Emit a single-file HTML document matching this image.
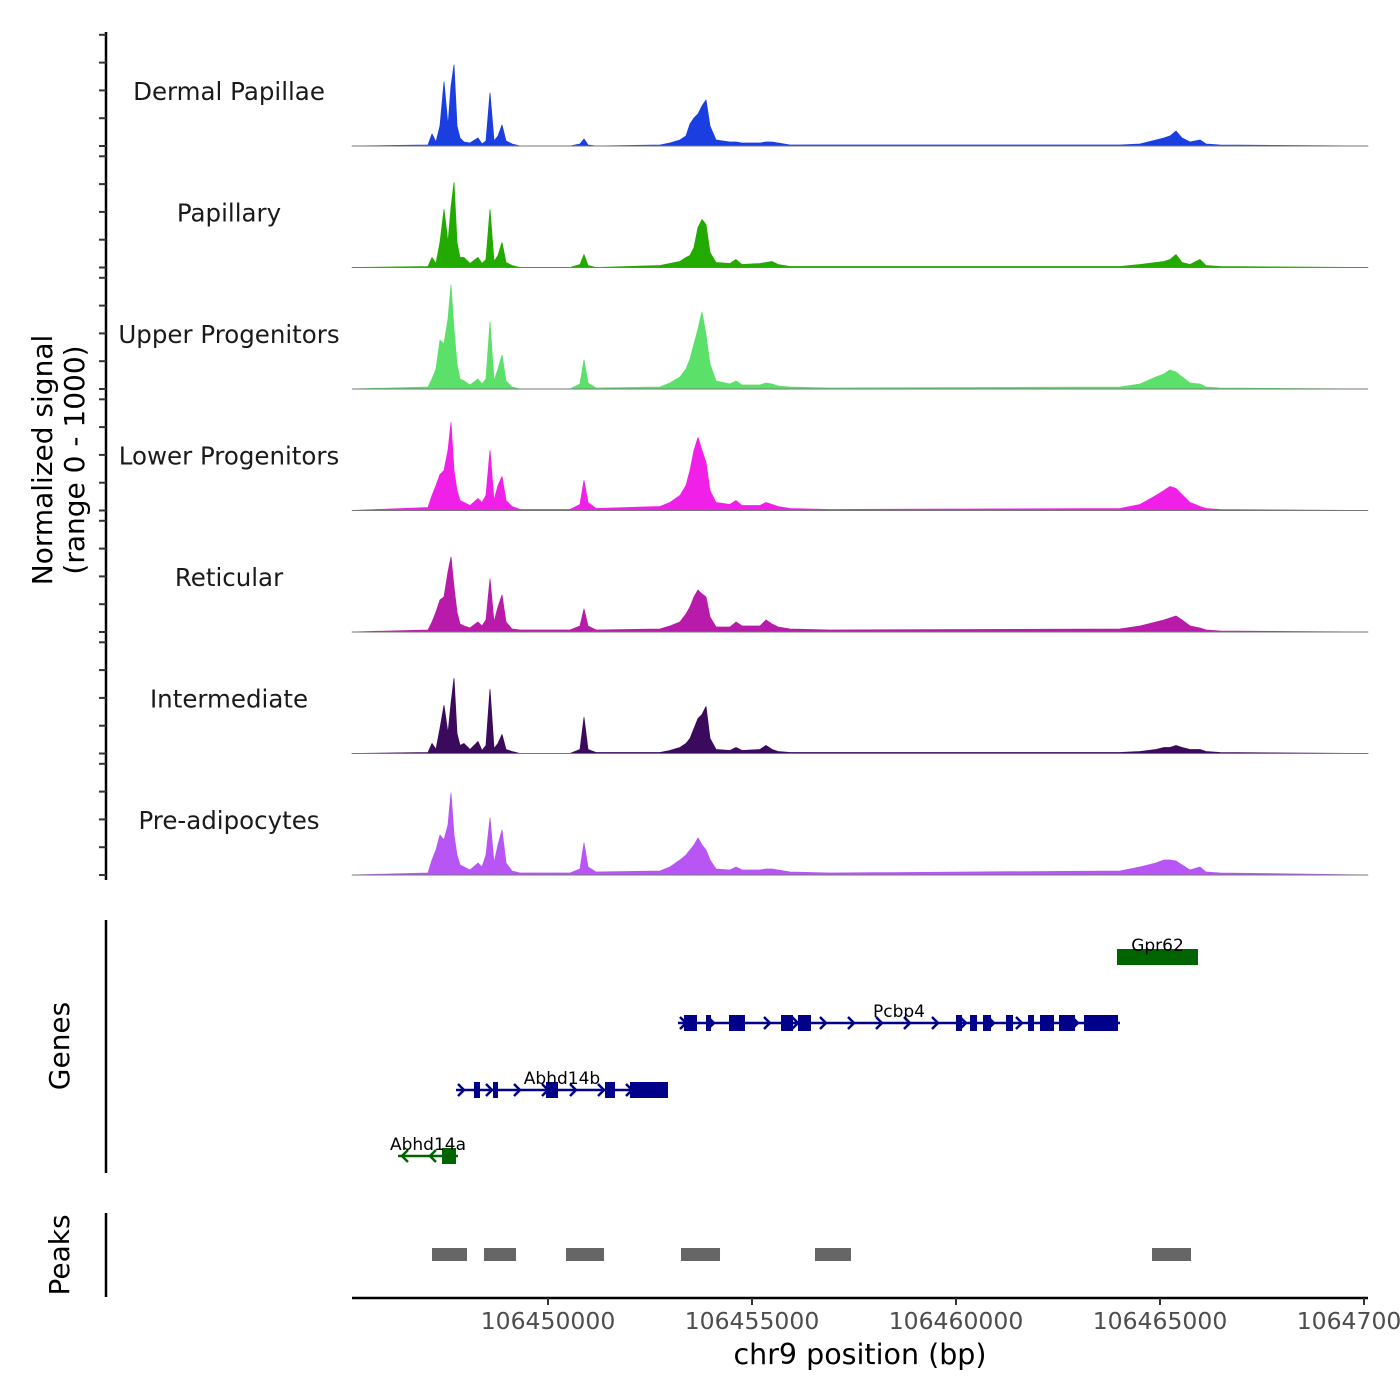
<!DOCTYPE html>
<html><head><meta charset="utf-8"><style>
html,body{margin:0;padding:0;background:#fff}
svg{display:block;font-family:"DejaVu Sans","Liberation Sans",sans-serif}
</style></head><body>
<svg id="c" width="1400" height="1400" viewBox="0 0 1400 1400" xmlns="http://www.w3.org/2000/svg"></svg>
<script>
const trackNames=["Dermal Papillae","Papillary","Upper Progenitors","Lower Progenitors","Reticular","Intermediate","Pre-adipocytes"];
const trackColors=["#1a3ee0","#22aa00","#5be06a","#f020e8","#b81aaa","#3b0a5c","#b855f5"];
const positions=[106445196,106447059,106447157,106447255,106447353,106447451,106447549,106447622,106447696,106447770,106447843,106447941,106448088,106448284,106448382,106448480,106448578,106448676,106448774,106448873,106448971,106449118,106449314,106450539,106450784,106450882,106450980,106451176,106452745,106452990,106453235,106453382,106453480,106453578,106453676,106453775,106453873,106453971,106454118,106454461,106454608,106454755,106455196,106455343,106455490,106455637,106455931,106456912,106464020,106464510,106464902,106465098,106465245,106465392,106465539,106465735,106465980,106466127,106466471,106470098];
const sigDermal=[0,1,12,4,20,64,20,60,81,20,8,4,3,8,2,5,53,5,10,21,5,2,0,0,2,7,1,0,1,3,6,10,22,28,32,40,46,20,6,4,4,3,3,4,4,3,1,1,1,2,6,8,10,15,8,4,6,2,1,0];
const sigPapillary=[0,1,10,4,25,58,25,60,85,25,10,10,4,10,4,8,58,6,12,25,5,2,0,0,3,13,2,0,2,4,6,10,12,20,40,48,43,15,5,4,8,3,4,5,6,3,1,1,1,3,5,6,8,13,5,3,8,2,1,0];
const sigUpper=[0,2,10,20,49,45,70,104,60,25,10,8,4,10,5,10,67,8,20,34,8,2,0,0,5,29,6,1,2,6,12,20,30,45,60,77,54,25,8,5,8,4,4,6,5,3,2,1,2,5,12,15,19,17,12,6,5,2,1,0];
const sigLower=[0,3,15,25,36,40,60,88,40,20,10,8,5,12,8,15,60,10,25,34,10,4,1,1,6,30,8,2,4,8,15,25,40,60,73,60,48,20,8,6,10,5,5,8,6,4,2,1,2,6,15,20,24,22,16,8,4,2,1,0];
const sigReticular=[0,2,10,20,32,35,60,75,45,20,8,6,4,10,6,12,53,10,25,37,10,3,2,2,6,23,6,2,3,6,10,18,25,35,42,38,35,15,5,5,10,6,6,12,8,5,3,2,3,6,10,12,14,16,12,6,4,2,1,0];
const sigIntermediate=[0,1,10,4,25,48,20,50,75,20,8,10,4,12,3,8,64,5,10,19,4,2,0,0,4,36,4,1,1,3,6,10,15,25,35,39,47,15,4,3,6,3,4,8,4,2,1,1,1,2,4,6,6,8,6,4,4,2,1,0];
const sigPreadipo=[0,2,15,25,40,35,50,82,40,20,10,8,5,12,8,20,57,12,30,45,12,4,2,2,6,32,8,3,4,8,15,20,25,30,37,30,25,15,6,5,8,5,5,6,6,5,3,2,4,8,12,15,15,14,10,5,8,3,2,0];
const signals=[sigDermal,sigPapillary,sigUpper,sigLower,sigReticular,sigIntermediate,sigPreadipo];
const xTicks=[106450000,106455000,106460000,106465000,106470000];
const geneNames=["Gpr62","Pcbp4","Abhd14b","Abhd14a"];
const geneStarts=[106463946,106453186,106447745,106446323];
const geneEnds=[106465931,106464020,106452941,106447794];
const geneStrand=[1,1,1,-1];
const pcbp4Exons=[[106453333,106453652],[106453873,106453995],[106454436,106454828],[106455711,106456005],[106456127,106456446],[106460000,106460147],[106460343,106460515],[106460662,106460858],[106461226,106461397],[106461765,106461912],[106462059,106462402],[106462525,106462917],[106463137,106463971]];
const abhd14bExons=[[106448186,106448333],[106448652,106448774],[106449951,106450245],[106451397,106451642],[106452010,106452941]];
const abhd14aExons=[[106447402,106447745]];
const gpr62Exons=[[106463946,106465931]];
const peakStarts=[106447157,106448431,106450441,106453260,106456544,106464804];
const peakEnds=[106448015,106449216,106451373,106454216,106457426,106465760];

const NS="http://www.w3.org/2000/svg";
const svg=document.getElementById('c');
function mk(tag,attrs,parent){const e=document.createElementNS(NS,tag);for(const k in attrs)e.setAttribute(k,attrs[k]);(parent||svg).appendChild(e);return e;}
const X0=106450000,PX0=548,PXPER=204/5000;
function xs(bp){return PX0+(bp-X0)*PXPER;}
function ys(v,base){return base-v;}

let ax=mk('line',{x1:106,y1:32,x2:106,y2:880,stroke:'#000','stroke-width':2.5});


let yt=mk('text',{x:0,y:0,'font-size':28,'text-anchor':'middle',fill:'#000',transform:'translate(52,460) rotate(-90)'});


mk('tspan',{x:0,dy:0},yt).textContent='Normalized signal';
mk('tspan',{x:0,dy:32},yt).textContent='(range 0 - 1000)';

for(let i=0;i<7;i++){
  const base=146+121.5*i;
  for(let k=0;k<5;k++){
    const t=mk('line',{x1:99,x2:106,y1:base-k*27.8,y2:base-k*27.8,stroke:'#333','stroke-width':2});
    
    
  }
  const g=mk('g',{});
  
  
  let d='M'+xs(positions[0])+','+base;
  signals[i].forEach((v,j)=>{d+=' L'+xs(positions[j]).toFixed(1)+','+ys(v,base).toFixed(1);});
  d+=' L'+xs(positions[positions.length-1])+','+base+' Z';
  const p=mk('path',{d:d,fill:trackColors[i],stroke:trackColors[i],'stroke-width':0.8,'stroke-linejoin':'round'},g);
  
  
  const bl=mk('line',{x1:352,x2:1368,y1:base,y2:base,stroke:'#777','stroke-width':1},g);
  
  
  const lb=mk('text',{x:229,y:base-46,'font-size':24.5,'text-anchor':'middle',fill:'#1a1a1a'},g);
  
  
  lb.textContent=trackNames[i];
}

let ga=mk('line',{x1:106,y1:920,x2:106,y2:1173,stroke:'#000','stroke-width':2.5});


let gt=mk('text',{x:0,y:0,'font-size':28,'text-anchor':'middle',fill:'#000',transform:'translate(69,1046) rotate(-90)'});


gt.textContent='Genes';
const geneY=[957,1023,1090,1156];
const geneColors=["#006400","#00008b","#00008b","#006400"];
const exonSets=[gpr62Exons,pcbp4Exons,abhd14bExons,abhd14aExons];
for(let i=0;i<4;i++){
  const g=mk('g',{});
  
  
  const y=geneY[i],c=geneColors[i];
  const x1=xs(geneStarts[i]),x2=xs(geneEnds[i]);
  mk('line',{x1:x1,x2:x2,y1:y,y2:y,stroke:c,'stroke-width':2.5},g);
  for(let ax2=x1+6;ax2<x2-4;ax2+=28){
    const s=geneStrand[i];
    mk('polyline',{points:`${ax2-4*s},${y-6} ${ax2+2*s},${y} ${ax2-4*s},${y+6}`,fill:'none',stroke:c,'stroke-width':2.5},g);
  }
  exonSets[i].forEach(e=>{
    const r=mk('rect',{x:xs(e[0]),y:y-8,width:Math.max(3,xs(e[1])-xs(e[0])),height:16,fill:c},g);
    
    
  });
  const t=mk('text',{x:(x1+x2)/2,y:y-6,'font-size':17,'text-anchor':'middle',fill:'#000'},g);
  
  
  t.textContent=geneNames[i];
}

let pa=mk('line',{x1:106,y1:1213,x2:106,y2:1297,stroke:'#000','stroke-width':2.5});


let pt=mk('text',{x:0,y:0,'font-size':28,'text-anchor':'middle',fill:'#000',transform:'translate(69,1255) rotate(-90)'});


pt.textContent='Peaks';
peakStarts.forEach((s,i)=>{
  const r=mk('rect',{x:xs(s),y:1248,width:xs(peakEnds[i])-xs(s),height:13,fill:'#666'});
  
  
});

let xa=mk('line',{x1:352,x2:1368,y1:1298,y2:1298,stroke:'#000','stroke-width':2.5});


xTicks.forEach(t=>{
  const x=xs(t);
  const l=mk('line',{x1:x,x2:x,y1:1298,y2:1305,stroke:'#333','stroke-width':2});
  
  
  const tx=mk('text',{x:x,y:1329,'font-size':23.5,'text-anchor':'middle',fill:'#4d4d4d'});
  
  
  tx.textContent=t;
});
let xt=mk('text',{x:860,y:1364,'font-size':28.5,'text-anchor':'middle',fill:'#000'});


xt.textContent='chr9 position (bp)';
</script>
</body></html>
